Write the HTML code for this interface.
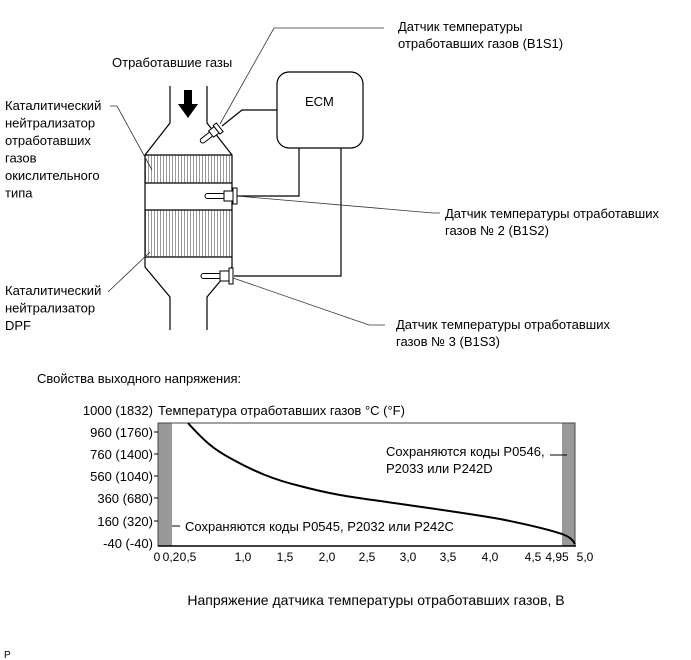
<!DOCTYPE html>
<html><head><meta charset="utf-8"><style>
html,body{margin:0;padding:0;background:#fff;}
svg{display:block;font-family:"Liberation Sans",Arial,sans-serif;font-size:13px;}
</style></head><body>
<svg width="691" height="660" viewBox="0 0 691 660" xmlns="http://www.w3.org/2000/svg">
<defs>
<pattern id="hatch" width="3" height="10" patternUnits="userSpaceOnUse">
<rect width="3" height="10" fill="#fff"/><line x1="1.5" y1="0" x2="1.5" y2="10" stroke="#999" stroke-width="1"/>
</pattern>
</defs>
<g fill="#000">
<text x="112" y="67">Отработавшие газы</text>
<text x="5" y="110">Каталитический</text>
<text x="5" y="127.5">нейтрализатор</text>
<text x="5" y="145">отработавших</text>
<text x="5" y="162.5">газов</text>
<text x="5" y="180">окислительного</text>
<text x="5" y="197.5">типа</text>
<text x="5" y="295">Каталитический</text>
<text x="5" y="312.5">нейтрализатор</text>
<text x="5" y="330">DPF</text>
<text x="398" y="31">Датчик температуры</text>
<text x="398" y="48">отработавших газов (B1S1)</text>
<text x="445" y="218">Датчик температуры отработавших</text>
<text x="445" y="235">газов № 2 (B1S2)</text>
<text x="396" y="329">Датчик температуры отработавших</text>
<text x="396" y="346">газов № 3 (B1S3)</text>
<text x="305" y="106">ECM</text>
</g>
<rect x="145" y="155" width="87" height="28" fill="url(#hatch)"/>
<rect x="145" y="210" width="87" height="47" fill="url(#hatch)"/>
<g fill="none" stroke="#000" stroke-width="1.2">
<polyline points="170,86 170,123 145,155 145,267 170,297 170,330"/>
<polyline points="207,86 207,123 232,155 232,267 207,297 207,330"/>
<line x1="145" y1="183" x2="232" y2="183"/>
<line x1="145" y1="210" x2="232" y2="210"/>
<line x1="145" y1="257" x2="232" y2="257"/>
<line x1="145" y1="155" x2="232" y2="155"/>
<rect x="277" y="72" width="86" height="76" rx="12"/>
<polyline points="277,110 242,110 222,126"/>
<polyline points="299,148 299,196 237,196"/>
<polyline points="341,148 341,276 234,276"/>
</g>
<polygon points="184,90 192,90 192,104 198,104 188,118 178,104 184,104" fill="#000"/>
<g stroke="#000" stroke-width="1" fill="#fff">
<g transform="translate(215,131) rotate(-38)"><rect x="-18" y="-2.5" width="14" height="5" rx="2.5"/><rect x="-5" y="-4" width="7" height="8"/><rect x="2" y="-5.5" width="4" height="11"/></g>
<rect x="205" y="193.5" width="20" height="5" rx="2.5"/><rect x="224" y="191" width="9" height="10"/><rect x="233" y="188" width="4" height="16"/>
<rect x="201" y="273.5" width="20" height="5" rx="2.5"/><rect x="220" y="271" width="9" height="10"/><rect x="229" y="268" width="4" height="16"/>
</g>
<g fill="none" stroke="#333" stroke-width="0.8">
<polyline points="220,124 274,28 384,28"/>
<polyline points="237,196 433,213 440,213"/>
<polyline points="233,278 369,325 385,325"/>
<polyline points="110,106 117,106 152,170"/>
<polyline points="108,292 150,252"/>
</g>
<text x="37" y="383" fill="#000">Свойства выходного напряжения:</text>
<text x="158" y="415" fill="#000">Температура отработавших газов  °C (°F)</text>
<g text-anchor="end" fill="#000">
<text x="153" y="415">1000 (1832)</text>
<text x="153" y="437">960 (1760)</text>
<text x="153" y="459">760 (1400)</text>
<text x="153" y="481">560 (1040)</text>
<text x="153" y="503">360 (680)</text>
<text x="153" y="526">160 (320)</text>
<text x="153" y="548">-40 (-40)</text>
</g>
<rect x="158" y="423" width="14" height="123" fill="#999"/>
<rect x="562" y="423" width="13" height="123" fill="#999"/>
<rect x="158" y="423" width="417" height="123" fill="none" stroke="#444" stroke-width="1"/>
<line x1="158" y1="546" x2="576" y2="546" stroke="#000" stroke-width="1.5"/>
<g stroke="#000" stroke-width="1">
<line x1="154" y1="432" x2="158" y2="432"/><line x1="154" y1="454" x2="158" y2="454"/><line x1="154" y1="476" x2="158" y2="476"/><line x1="154" y1="498" x2="158" y2="498"/><line x1="154" y1="521" x2="158" y2="521"/>
<line x1="172" y1="526" x2="180" y2="526"/><line x1="550" y1="455" x2="567" y2="455"/>
</g>
<path d="M188,423 C205,442 215,450 230,458 C255,472 275,480 300,486 C330,494 350,497 380,501 C420,507 460,512 500,519 C530,525 550,530 562,534 C570,537 573,540 575,544" fill="none" stroke="#000" stroke-width="2"/>
<rect x="382" y="441" width="166" height="32" fill="#fff"/>
<text x="386" y="456" fill="#000">Сохраняются коды P0546,</text>
<text x="386" y="473" fill="#000">P2033 или P242D</text>
<text x="185" y="531" fill="#000">Сохраняются коды P0545, P2032 или P242C</text>
<g text-anchor="middle" fill="#000" font-size="12">
<text x="157" y="561">0</text><text x="171" y="561">0,2</text><text x="188" y="561">0,5</text>
<text x="243" y="561">1,0</text><text x="285" y="561">1,5</text><text x="327" y="561">2,0</text>
<text x="367" y="561">2,5</text><text x="408" y="561">3,0</text><text x="448" y="561">3,5</text>
<text x="490" y="561">4,0</text><text x="533" y="561">4,5</text><text x="557" y="561">4,95</text><text x="585" y="561">5,0</text>
</g>
<text x="376" y="605" font-size="14" text-anchor="middle" fill="#000">Напряжение датчика температуры отработавших газов, В</text>
<text x="4" y="658" fill="#000" font-size="10">P</text>
</svg>
</body></html>
